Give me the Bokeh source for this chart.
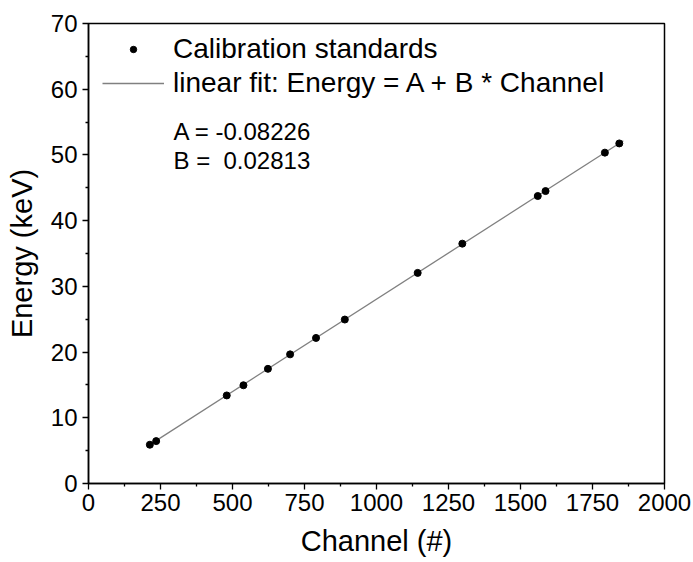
from bokeh.plotting import figure
from bokeh.models import (Range1d, FixedTicker, Legend, LegendItem, Label)
from bokeh.embed import file_html
from bokeh.resources import INLINE

# ---- data ----
channels = [213, 235, 480, 538, 623, 700, 790, 890, 1143, 1298, 1560, 1587, 1793, 1843]
energies = [5.9, 6.45, 13.4, 14.95, 17.45, 19.65, 22.15, 24.95, 32.05, 36.5, 43.75, 44.5, 50.35, 51.75]
fit_x = [208, 1857]
fit_y = [5.77, 52.15]
x_ticks = [0, 250, 500, 750, 1000, 1250, 1500, 1750, 2000]
x_minor = [125, 375, 625, 875, 1125, 1375, 1625, 1875]
y_ticks = [0, 10, 20, 30, 40, 50, 60, 70]
y_minor = [5, 15, 25, 35, 45, 55, 65]
legend_labels = ["Calibration standards", "linear fit: Energy = A + B * Channel"]
param_lines = ["A = -0.08226", "B = \u00a00.02813"]

FONT = "Liberation Sans"

p = figure(width=693, height=562, output_backend="svg", toolbar_location=None,
           x_range=Range1d(0, 2000), y_range=Range1d(0, 70),
           min_border_left=88, min_border_right=29, min_border_top=23, min_border_bottom=79)
p.grid.visible = False
p.outline_line_color = "black"
p.outline_line_width = 1.5
p.background_fill_color = "white"
p.border_fill_color = "white"

fit = p.line(fit_x, fit_y, line_color="#808080", line_width=1.3)
pts = p.scatter(channels, energies, size=7, marker="circle",
                fill_color="black", line_color="black")

for ax in (p.xaxis[0], p.yaxis[0]):
    ax.axis_line_width = 1.5
    ax.axis_line_color = "black"
    ax.major_tick_line_color = "black"
    ax.minor_tick_line_color = "black"
    ax.major_tick_line_width = 1.3
    ax.minor_tick_line_width = 1.3
    ax.major_tick_out = 6
    ax.major_tick_in = 0
    ax.minor_tick_out = 3
    ax.minor_tick_in = 0
    ax.major_label_text_font = FONT
    ax.major_label_text_font_size = "24px"
    ax.major_label_text_color = "black"
    ax.axis_label_text_font = FONT
    ax.axis_label_text_font_size = "29px"
    ax.axis_label_text_font_style = "normal"
    ax.axis_label_text_color = "black"

p.xaxis.ticker = FixedTicker(ticks=x_ticks, minor_ticks=x_minor)
p.yaxis.ticker = FixedTicker(ticks=y_ticks, minor_ticks=y_minor)
p.xaxis.axis_label = "Channel (#)"
p.yaxis.axis_label = "Energy (keV)"
p.xaxis.major_label_standoff = 4
p.yaxis.major_label_standoff = 5
p.xaxis.axis_label_standoff = 11
p.yaxis.axis_label_standoff = 10

legend = Legend(items=[LegendItem(label=legend_labels[0], renderers=[pts]),
                       LegendItem(label=legend_labels[1], renderers=[fit])],
                location=(14, 384), margin=0, padding=0, spacing=2,
                glyph_width=62, glyph_height=16, label_height=31, label_standoff=9,
                label_text_font=FONT, label_text_font_size="28px",
                label_text_color="black",
                border_line_color=None, background_fill_alpha=0)
p.add_layout(legend)

for i, txt in enumerate(param_lines):
    p.add_layout(Label(x=295, y=[53.6, 49.2][i], text=txt, text_font=FONT,
                       text_font_size="24px", text_color="black",
                       text_baseline="alphabetic"))

open("out.html", "w").write(file_html(p, INLINE))
